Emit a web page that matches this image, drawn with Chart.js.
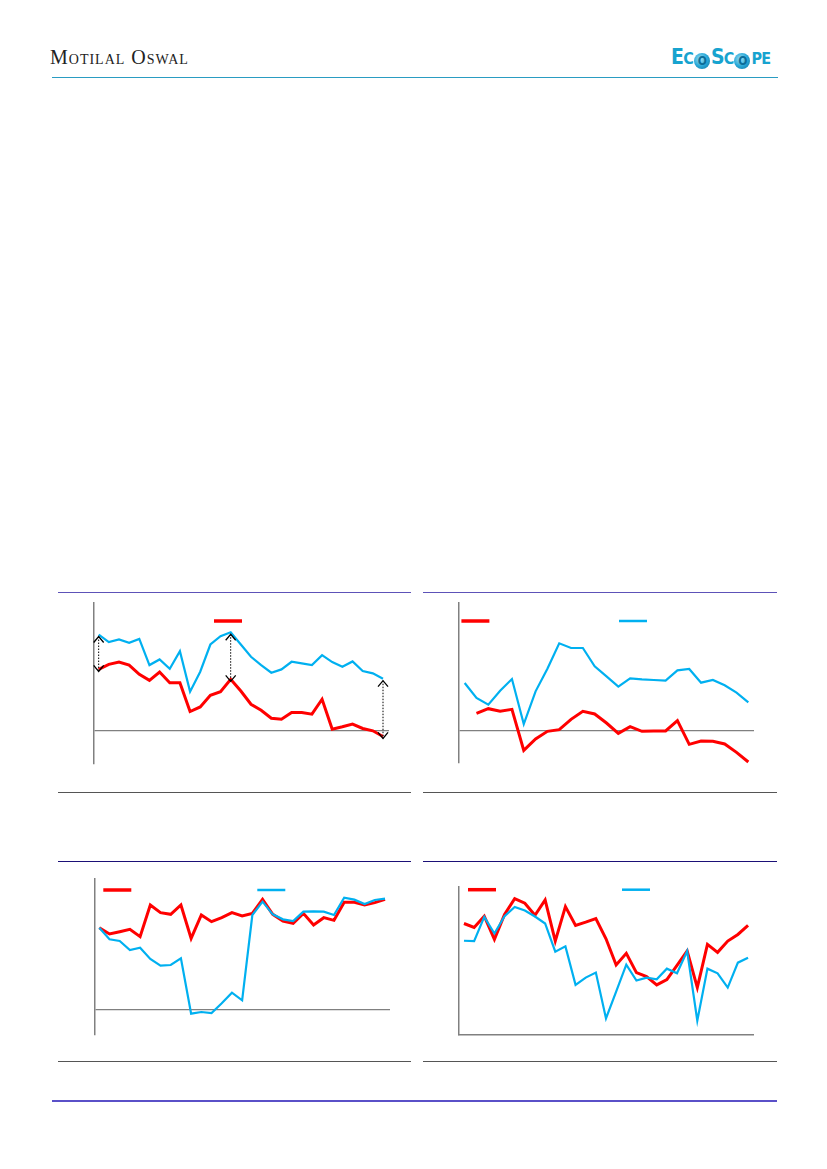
<!DOCTYPE html>
<html>
<head>
<meta charset="utf-8">
<script src="https://cdn.jsdelivr.net/npm/chart.js@4/dist/chart.umd.min.js"></script>
<style>
  html, body { margin: 0; padding: 0; background: #fff; }
  body { width: 827px; height: 1169px; position: relative; overflow: hidden; }
  .abs { position: absolute; }
  .rule { position: absolute; height: 0; }
  #brand { left: 50px; top: 46px; font-family: "Liberation Serif", "DejaVu Serif", serif; font-size: 20px; font-variant: small-caps; letter-spacing: 1px; color: #222; }
  #logo { left: 671px; top: 45px; height: 24px; font-family: "DejaVu Sans Condensed", "Liberation Sans", sans-serif; font-weight: bold; font-size: 21px; line-height: 24px; color: #17a3cf; letter-spacing: -0.8px; white-space: nowrap; }
  #logo .sm { font-size: 16px; }
  #logo .globe { display: inline-block; width: 16px; height: 16px; border-radius: 50%; font-size: 12px; line-height: 16px; text-align: center; color: #0c6d98; vertical-align: -1px; margin: 0 1px;
    background: radial-gradient(circle at 40% 38%, #9fe0f4 0%, #2aa9d8 50%, #0b6f9c 100%); }
  .box { position: absolute; }
</style>
</head>
<body>
<div id="brand" class="abs">Motilal Oswal</div>
<div id="logo" class="abs">E<span class="sm">C</span><span class="globe">O</span>S<span class="sm">C</span><span class="globe">O</span><span class="sm">PE</span></div>
<div class="rule" style="left:52px; top:77px; width:726px; border-top:1px solid #2a9cc2;"></div>

<div class="rule" style="left:58px; top:592px; width:353px; border-top:1px solid #5d52b8;"></div>
<div class="rule" style="left:423px; top:592px; width:354px; border-top:1px solid #5d52b8;"></div>
<div class="rule" style="left:58px; top:792px; width:353px; border-top:1px solid #555;"></div>
<div class="rule" style="left:423px; top:792px; width:354px; border-top:1px solid #555;"></div>
<div class="rule" style="left:58px; top:861px; width:353px; border-top:1px solid #1b1077;"></div>
<div class="rule" style="left:423px; top:861px; width:354px; border-top:1px solid #1b1077;"></div>
<div class="rule" style="left:58px; top:1061px; width:353px; border-top:1px solid #555;"></div>
<div class="rule" style="left:423px; top:1061px; width:354px; border-top:1px solid #555;"></div>
<div class="rule" style="left:52px; top:1100px; width:725px; border-top:2px solid #5a50c8;"></div>

<div class="box" id="b1"><canvas id="c1"></canvas></div>
<div class="box" id="b2"><canvas id="c2"></canvas></div>
<div class="box" id="b3"><canvas id="c3"></canvas></div>
<div class="box" id="b4"><canvas id="c4"></canvas></div>

<script>
// chart 1 (top left)
const red1 = [18.6, 20.1, 20.8, 19.9, 17.1, 15.3, 17.8, 14.6, 14.6, 5.9, 7.3, 10.8, 11.9, 15.6, 12.1,
  8.1, 6.3, 3.9, 3.6, 5.6, 5.6, 5.1, 9.6, 0.6, 1.3, 2.1, 0.8, 0.1, -1.6];
const blue1 = [29.1, 26.8, 27.6, 26.6, 27.8, 19.9, 21.6, 18.8, 24.1, 11.9, 17.9, 26.1, 28.6, 29.8, 26.1,
  22.4, 19.9, 17.6, 18.6, 20.9, 20.4, 19.9, 22.9, 20.8, 19.4, 21.0, 18.1, 17.4, 15.8];
const arrows1 = [0, 13, 28];

// chart 2 (top right)
const red2 = [null, 5.2, 6.6, 5.8, 6.4, -5.9, -2.5, -0.2, 0.3, 3.4, 5.8, 5.0, 2.3, -0.8, 1.2,
  -0.2, -0.1, -0.1, 3.0, -4.1, -3.1, -3.2, -4.0, -6.5, -9.4];
const blue2 = [14.3, 9.8, 7.8, 12.0, 15.5, 2.0, 11.8, 18.6, 26.2, 24.8, 24.8, 19.3, 16.3, 13.2, 15.7,
  15.4, 15.2, 15.0, 18.1, 18.5, 14.4, 15.2, 13.6, 11.4, 8.5];

// chart 3 (bottom left)
const red3 = [24.5, 22.6, 23.3, 24.0, 21.8, 31.3, 29.0, 28.5, 31.3, 21.3, 28.3, 26.3, 27.5, 29.0, 28.0,
  28.8, 33.0, 28.5, 26.5, 25.8, 28.8, 25.3, 27.5, 26.7, 32.1, 32.1, 31.3, 32.0, 33.0];
const blue3 = [24.5, 21.0, 20.5, 17.8, 18.5, 15.1, 13.1, 13.3, 15.3, -1.3, -0.8, -1.1, 1.8, 5.0, 2.7,
  28.3, 32.3, 28.5, 27.0, 26.5, 29.3, 29.4, 29.3, 28.3, 33.5, 32.9, 31.6, 32.8, 33.2];

// chart 4 (bottom right)
const red4 = [33.6, 32.4, 35.8, 28.8, 36.3, 41.1, 39.7, 36.1, 40.7, 28.3, 38.7, 33.0, 34.0, 35.1, 29.0,
  21.1, 24.6, 18.8, 17.6, 15.1, 16.7, 21.0, 25.3, 14.3, 27.3, 24.9, 28.3, 30.3, 33.0];
const blue4 = [28.4, 28.3, 35.6, 30.6, 35.8, 38.6, 37.5, 35.7, 33.6, 25.1, 26.7, 15.1, 17.3, 18.8, 5.0,
  13.1, 21.2, 16.4, 17.3, 16.8, 20.0, 18.6, 25.3, 4.3, 20.0, 18.6, 14.3, 21.8, 23.3];

const RED = "#ff0000";
const BLUE = "#00b0f0";
const AXIS = "#808080";
const PAD = 6;

function toPoints(values) {
  return values.map((v, i) => ({ x: i, y: v }));
}

// small line swatches where the legend sat (text is not in the picture)
const swatchPlugin = {
  id: "swatches",
  afterDraw(chart, args, opts) {
    const ctx = chart.ctx;
    const a = chart.chartArea;
    (opts.items || []).forEach(it => {
      ctx.save();
      ctx.strokeStyle = chart.data.datasets[it.ds].borderColor;
      ctx.lineWidth = it.w;
      ctx.beginPath();
      ctx.moveTo(a.left + it.dx, a.top + it.dy);
      ctx.lineTo(a.left + it.dx + 28, a.top + it.dy);
      ctx.stroke();
      ctx.restore();
    });
  }
};

// dotted double arrows between the two series
const arrowPlugin = {
  id: "gapArrows",
  afterDatasetsDraw(chart, args, opts) {
    const idx = opts.indices || [];
    if (!idx.length) return;
    const ctx = chart.ctx;
    const top = chart.getDatasetMeta(1).data;
    const bot = chart.getDatasetMeta(0).data;
    idx.forEach(i => {
      const x = top[i].x;
      const y1 = Math.min(top[i].y, bot[i].y) + 2;
      const y2 = Math.max(top[i].y, bot[i].y) + 2;
      ctx.save();
      ctx.strokeStyle = "#000";
      ctx.lineWidth = 1;
      ctx.setLineDash([1.5, 1.5]);
      ctx.beginPath();
      ctx.moveTo(x, y1);
      ctx.lineTo(x, y2);
      ctx.stroke();
      ctx.setLineDash([]);
      ctx.lineWidth = 1.3;
      ctx.beginPath();
      ctx.moveTo(x - 5, y1 + 6); ctx.lineTo(x, y1); ctx.lineTo(x + 5, y1 + 6);
      ctx.moveTo(x - 5, y2 - 6); ctx.lineTo(x, y2); ctx.lineTo(x + 5, y2 - 6);
      ctx.stroke();
      ctx.restore();
    });
  }
};

function makeChart(id, area, red, blue, xr, yr, opts) {
  const box = document.getElementById("b" + id);
  const w = area.right - area.left + PAD * 2;
  const h = area.bottom - area.top + PAD * 2;
  box.style.left = (area.left - PAD) + "px";
  box.style.top = (area.top - PAD) + "px";
  const canvas = document.getElementById("c" + id);
  canvas.width = w;
  canvas.height = h;
  return new Chart(canvas.getContext("2d"), {
    type: "line",
    data: {
      datasets: [
        { data: toPoints(red), borderColor: RED, borderWidth: 3, pointRadius: 0, tension: 0, order: 1, clip: false },
        { data: toPoints(blue), borderColor: BLUE, borderWidth: 2.2, pointRadius: 0, tension: 0, order: 0, clip: false }
      ]
    },
    options: {
      responsive: false,
      animation: false,
      layout: { padding: PAD },
      plugins: {
        legend: { display: false },
        tooltip: { enabled: false },
        swatches: { items: opts.swatches },
        gapArrows: { indices: opts.arrows || [] }
      },
      scales: {
        x: {
          type: "linear",
          min: xr[0], max: xr[1],
          display: !!opts.xBorder,
          ticks: { display: false },
          grid: { display: false, drawTicks: false },
          border: { display: !!opts.xBorder, color: AXIS, width: 1.5 }
        },
        y: {
          min: yr[0], max: yr[1],
          ticks: { display: false },
          afterBuildTicks: (s) => { s.ticks = opts.zeroLine ? [{ value: 0 }] : []; },
          grid: { display: !!opts.zeroLine, drawTicks: false, color: AXIS, lineWidth: 1.3 },
          border: { display: true, color: AXIS, width: 1.5 }
        }
      }
    },
    plugins: [swatchPlugin, arrowPlugin]
  });
}

makeChart(1, { left: 94.3, top: 603.3, right: 390, bottom: 765 }, red1, blue1, [-0.46, 28.59], [-9.9, 38.6],
  { zeroLine: true, arrows: arrows1, swatches: [{ ds: 0, dx: 120, dy: 18, w: 3.5 }] });
makeChart(2, { left: 459.3, top: 603.3, right: 755, bottom: 763.3 }, red2, blue2, [-0.48, 24.48], [-9.7, 38.3],
  { zeroLine: true, swatches: [{ ds: 0, dx: 2.4, dy: 18, w: 3.5 }, { ds: 1, dx: 160, dy: 18, w: 2.5 }] });
makeChart(3, { left: 95, top: 879, right: 390, bottom: 1035 }, red3, blue3, [-0.42, 28.49], [-7.7, 39.1],
  { zeroLine: true, swatches: [{ ds: 0, dx: 8.3, dy: 11, w: 3.5 }, { ds: 1, dx: 162.3, dy: 11, w: 2.5 }] });
makeChart(4, { left: 459.3, top: 887.3, right: 754, bottom: 1036 }, red4, blue4, [-0.49, 28.49], [0, 44.6],
  { xBorder: true, swatches: [{ ds: 0, dx: 9, dy: 2.7, w: 3.5 }, { ds: 1, dx: 163, dy: 2.7, w: 2.5 }] });
</script>
</body>
</html>
